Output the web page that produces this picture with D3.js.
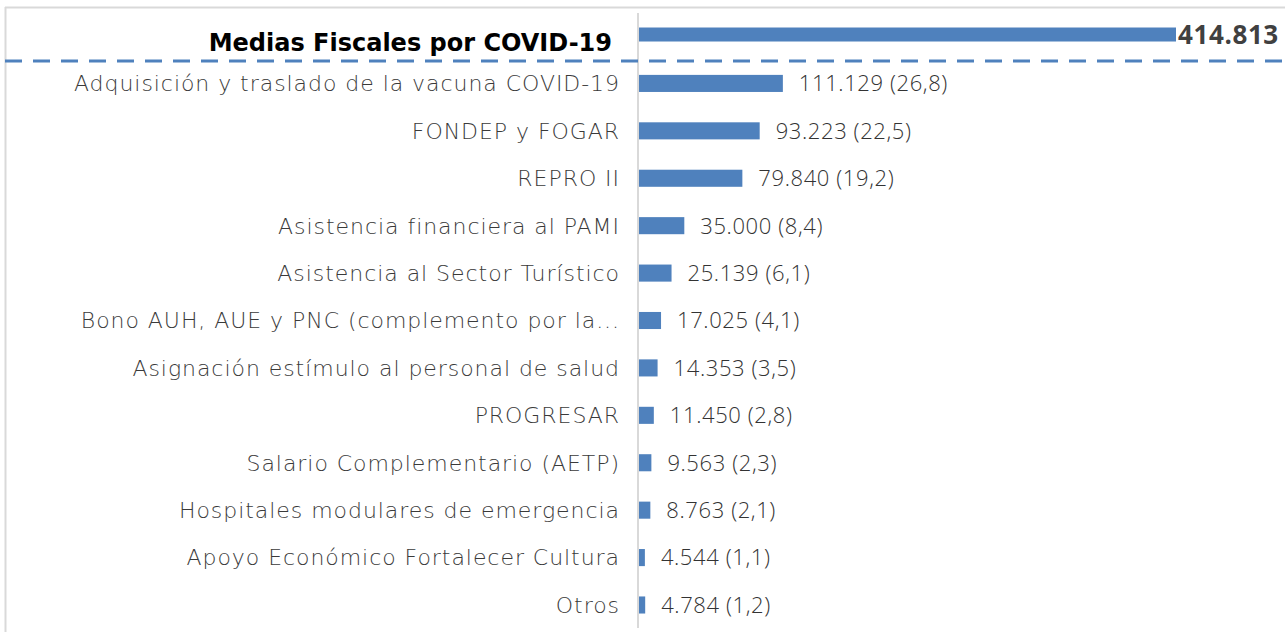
<!DOCTYPE html>
<html>
<head>
<meta charset="utf-8">
<title>Medidas Fiscales por COVID-19</title>
<script src="https://d3js.org/d3.v7.min.js"></script>
<style>
  body { margin: 0; background: #fff; }
  svg { display: block; }
</style>
</head>
<body>
<div id="chart"></div>
<script>
// total row
var totalLabel = "Medias Fiscales por COVID-19";
var totalValue = 414813;

// detail rows
var categories = [
  "Adquisición y traslado de la vacuna COVID-19",
  "FONDEP y FOGAR",
  "REPRO II",
  "Asistencia financiera al PAMI",
  "Asistencia al Sector Turístico",
  "Bono AUH, AUE y PNC (complemento por la...",
  "Asignación estímulo al personal de salud",
  "PROGRESAR",
  "Salario Complementario (AETP)",
  "Hospitales modulares de emergencia",
  "Apoyo Económico Fortalecer Cultura",
  "Otros"
];
var values = [111129, 93223, 79840, 35000, 25139, 17025, 14353, 11450, 9563, 8763, 4544, 4784];
var shares = ["26,8", "22,5", "19,2", "8,4", "6,1", "4,1", "3,5", "2,8", "2,3", "2,1", "1,1", "1,2"];

var width = 1285, height = 632;
var blue = "#4f81bd";
var fmt = d3.formatLocale({decimal: ",", thousands: ".", grouping: [3], currency: ["$", ""]}).format(",d");

var svg = d3.select("#chart").append("svg")
  .attr("width", width)
  .attr("height", height);

// outer frame (top + left edges visible)
svg.append("line").attr("x1", 5).attr("x2", width).attr("y1", 7.5).attr("y2", 7.5)
  .attr("stroke", "#d9d9d9").attr("stroke-width", 2);
svg.append("line").attr("x1", 5.5).attr("x2", 5.5).attr("y1", 7).attr("y2", height)
  .attr("stroke", "#d9d9d9").attr("stroke-width", 2);

var rows = [totalLabel].concat(categories);

var x = d3.scaleLinear()
  .domain([0, totalValue])
  .range([639, 1176]);

var y = d3.scaleBand()
  .domain(rows)
  .range([12.3, 628.7])
  .paddingInner(0.64)
  .paddingOuter(0.32);

// category axis line
svg.append("line")
  .attr("x1", 638).attr("x2", 638)
  .attr("y1", 13).attr("y2", 628)
  .attr("stroke", "#d9d9d9").attr("stroke-width", 2);

// total bar
var topH = y.bandwidth() * 0.82;
svg.append("rect")
  .attr("x", x(0))
  .attr("y", y(totalLabel) + (y.bandwidth() - topH) / 2 - 1.5)
  .attr("width", x(totalValue) - x(0))
  .attr("height", topH)
  .attr("fill", blue);

svg.append("text")
  .attr("x", x(totalValue) + 2)
  .attr("y", y(totalLabel) + y.bandwidth() / 2 - 1.5)
  .attr("dy", "0.36em")
  .attr("font-family", "'Open Sans', sans-serif")
  .attr("font-weight", "bold")
  .attr("font-size", 26)
  .attr("letter-spacing", "0.6px")
  .attr("fill", "#404040")
  .text(fmt(totalValue));

svg.append("text")
  .attr("x", 612)
  .attr("y", y(totalLabel) + y.bandwidth() / 2 + 6)
  .attr("dy", "0.36em")
  .attr("text-anchor", "end")
  .attr("font-family", "'DejaVu Sans', sans-serif")
  .attr("font-weight", "bold")
  .attr("font-size", 24)
  .attr("fill", "#000")
  .text(totalLabel);

// dashed separator
svg.append("line")
  .attr("x1", 5).attr("x2", width)
  .attr("y1", 61).attr("y2", 61)
  .attr("stroke", blue)
  .attr("stroke-width", 3)
  .attr("stroke-dasharray", "17,11");

// detail bars
var data = categories.map(function(c, i) {
  return {name: c, value: values[i], share: shares[i]};
});

svg.selectAll("rect.bar")
  .data(data)
  .enter().append("rect")
    .attr("class", "bar")
    .attr("x", x(0))
    .attr("y", function(d) { return y(d.name); })
    .attr("width", function(d) { return x(d.value) - x(0); })
    .attr("height", y.bandwidth())
    .attr("fill", blue);

svg.selectAll("text.cat")
  .data(data)
  .enter().append("text")
    .attr("class", "cat")
    .attr("x", 620)
    .attr("y", function(d) { return y(d.name) + y.bandwidth() / 2; })
    .attr("dy", "0.36em")
    .attr("text-anchor", "end")
    .attr("font-family", "'DejaVu Sans', sans-serif")
    .attr("font-weight", 200)
    .attr("font-size", 22)
    .attr("letter-spacing", "0.95px")
    .attr("fill", "#3a3a3a")
    .text(function(d) { return d.name; });

svg.selectAll("text.val")
  .data(data)
  .enter().append("text")
    .attr("class", "val")
    .attr("x", function(d) { return x(d.value) + 16; })
    .attr("y", function(d) { return y(d.name) + y.bandwidth() / 2; })
    .attr("dy", "0.36em")
    .attr("font-family", "'Open Sans', sans-serif")
    .attr("font-weight", 300)
    .attr("font-size", 22)
    .attr("letter-spacing", "0.6px")
    .attr("fill", "#333333")
    .text(function(d) { return fmt(d.value) + " (" + d.share + ")"; });
</script>
</body>
</html>
